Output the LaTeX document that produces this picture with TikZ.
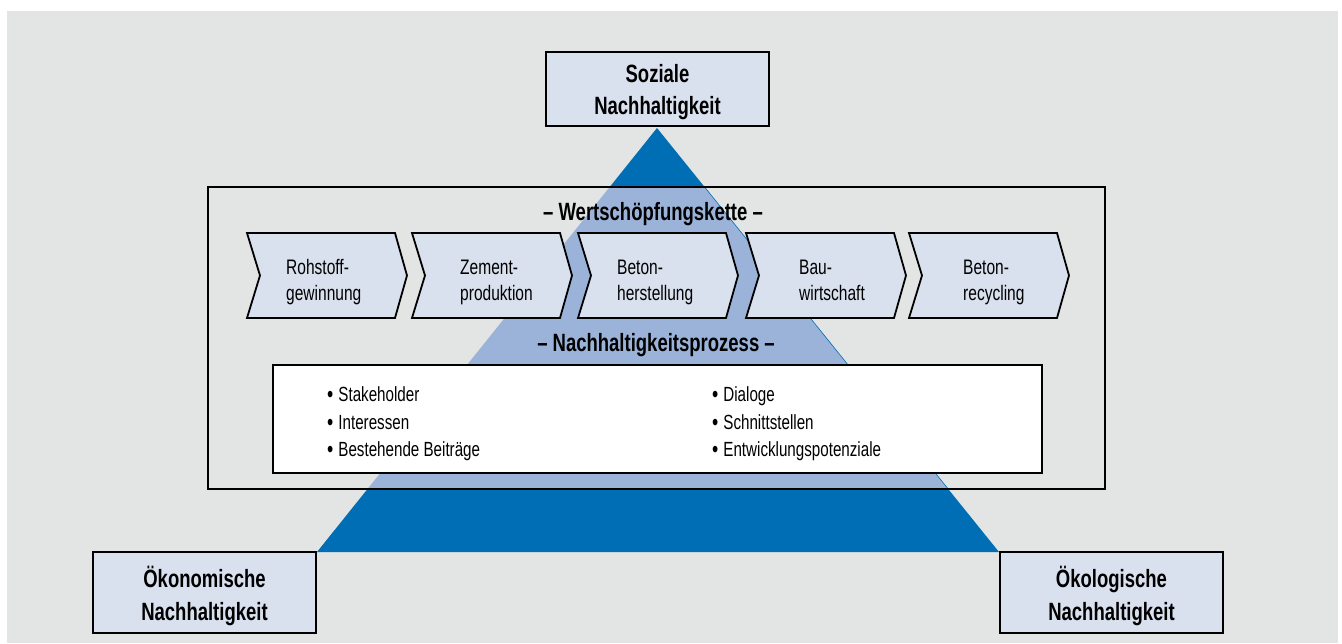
\documentclass[tikz,border=0pt]{standalone}
\usepackage{fontspec}
\setmainfont{Liberation Sans}[FakeStretch=0.74]
\definecolor{bggray}{RGB}{227,229,228}
\definecolor{darkblue}{RGB}{0,110,180}
\definecolor{lightblue}{RGB}{155,179,217}
\definecolor{lavender}{RGB}{217,224,238}
\tikzset{
  pillar/.style={draw=black, line width=2.4pt, fill=lavender, inner sep=0pt, minimum width=223pt},
  pillartext/.style={align=center, inner sep=0pt, font=\fontsize{25}{32.5}\selectfont\bfseries},
  chev/.style={draw=black, line width=1.8pt, fill=lavender, line join=miter},
  chevtext/.style={align=left, anchor=west, inner sep=0pt, font=\fontsize{21}{26}\selectfont},
  bullettext/.style={anchor=base west, inner sep=0pt, font=\fontsize{20.5}{27}\selectfont},
  heading/.style={inner sep=0pt, font=\fontsize{25}{30}\selectfont\bfseries},
}
\newcommand{\bul}{\raisebox{-1.5pt}{\fontsize{24}{27}\selectfont\textbullet}\hspace{5pt}}
\begin{document}
\begin{tikzpicture}[x=1pt,y=-1pt]
\useasboundingbox (0,0) rectangle (1342,643);
\fill[white] (0,0) rectangle (1342,643);
\fill[bggray] (7,11) rectangle (1338,643);
% triangle
\coordinate (apex) at (657,128);
\coordinate (bl) at (317,552);
\coordinate (br) at (999,552);
\fill[darkblue] (apex) -- (bl) -- (br) -- cycle;
% frame
\coordinate (fnw) at (208,187);
\coordinate (fse) at (1105,489);
\fill[bggray] (fnw) rectangle (fse);
\begin{scope}
  \clip (fnw) rectangle (fse);
  \fill[lightblue] (apex) -- (bl) -- (br) -- cycle;
  \draw[darkblue, line width=0.6pt] (apex) -- (br);
\end{scope}
\draw[black, line width=2pt] (fnw) rectangle (fse);
% pillar boxes
\node[pillar, minimum height=74pt] (soz) at (657.5,89) {};
\node[pillartext] (sozt) at (657.5,92) {Soziale\\Nachhaltigkeit};
\node[pillar, minimum height=81pt] (oek) at (204.5,592.5) {};
\node[pillartext] (oekt) at (204.5,596) {Ökonomische\\Nachhaltigkeit};
\node[pillar, minimum height=81pt] (oekol) at (1111.5,592.5) {};
\node[pillartext] (oekolt) at (1111.5,596) {Ökologische\\Nachhaltigkeit};
% heading
\node[heading] (wsk) at (653,214) {– Wertschöpfungskette –};
\node[heading] (nhp) at (656,345) {– Nachhaltigkeitsprozess –};
% chevrons
\foreach \L/\T/\nm/\txt in {247/286/c1/{Rohstoff-\strut\\gewinnung\strut},412/460/c2/{Zement-\strut\\produktion\strut},578/617/c3/{Beton-\strut\\herstellung\strut},746/799/c4/{Bau-\strut\\wirtschaft\strut},909/963/c5/{Beton-\strut\\recycling\strut}}{
  \draw[chev] (\L,233) -- ++(148,0) -- ++(12,42.5) -- ++(-12,42.5) -- ++(-148,0) -- ++(13,-42.5) -- cycle;
  \node[chevtext] (\nm) at (\T,282) {\txt};
}
% white box
\node[draw=black, line width=2pt, fill=white, minimum width=769pt, minimum height=108pt, inner sep=0pt] (box) at (657.5,419) {};
\node[bullettext] (b1) at (327,401) {\bul Stakeholder};
\node[bullettext] (b2) at (327,429) {\bul Interessen};
\node[bullettext] (b3) at (327,456) {\bul Bestehende Beiträge};
\node[bullettext] (b4) at (712,401) {\bul Dialoge};
\node[bullettext] (b5) at (712,429) {\bul Schnittstellen};
\node[bullettext] (b6) at (712,456) {\bul Entwicklungspotenziale};
\end{tikzpicture}
\end{document}
